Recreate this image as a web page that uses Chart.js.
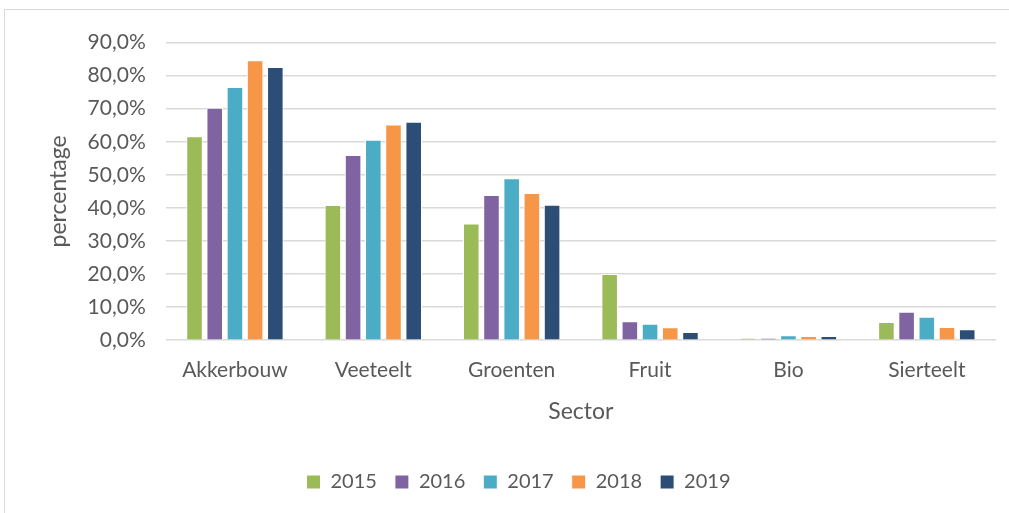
<!DOCTYPE html>
<html><head><meta charset="utf-8">
<script src="https://cdn.jsdelivr.net/npm/chart.js@4"></script>
<style>
html,body{margin:0;padding:0;background:#fff;overflow:hidden}
#box{position:absolute;left:4px;top:9px;width:1010px;height:510px;border:1px solid #D9D9D9;box-sizing:border-box}
#c{position:absolute;left:0;top:0}
</style></head><body>
<div id="box"><canvas id="c" width="1008" height="508"></canvas></div>
<script>
const categories = ['Akkerbouw','Veeteelt','Groenten','Fruit','Bio','Sierteelt'];
const years = ['2015','2016','2017','2018','2019'];
const v2015 = [61.7, 40.9, 35.3, 20.0, 0.7, 5.5];
const v2016 = [70.3, 56.0, 43.9, 5.7, 0.7, 8.6];
const v2017 = [76.6, 60.6, 49.0, 5.0, 1.5, 7.1];
const v2018 = [84.7, 65.2, 44.5, 3.9, 1.3, 4.0];
const v2019 = [82.6, 66.1, 41.0, 2.5, 1.3, 3.3];
const colors = ['#9BBB59','#8064A2','#4BACC6','#F79646','#2C4D75'];
const series = [v2015, v2016, v2017, v2018, v2019];
const FONT = 'Lato, "Open Sans", sans-serif';
new Chart(document.getElementById('c'), {
  type: 'bar',
  data: {
    labels: categories,
    datasets: series.map((s,i)=>({label: years[i], data: s, backgroundColor: colors[i], borderColor:'#ffffff', borderWidth:1,
      categoryPercentage:0.73, barPercentage:0.82}))
  },
  options: {
    responsive:false, animation:false,
    layout:{padding:{left:36,right:17,top:6,bottom:16}},
    plugins:{
      legend:{position:'bottom', labels:{boxWidth:14, boxHeight:14, padding:18, color:'#595959', font:{family:FONT,size:20}}},
      tooltip:{enabled:false}
    },
    scales:{
      x:{grid:{display:false}, border:{display:false},
        ticks:{color:'#595959', font:{family:FONT,size:21}, padding:9},
        title:{display:true, text:'Sector', color:'#595959', font:{family:FONT,size:23}, padding:{top:6,bottom:29}}},
      y:{min:0, max:90, grid:{color:'#D9D9D9', lineWidth:1.5, drawTicks:false}, border:{display:false},
        ticks:{stepSize:10, color:'#595959', font:{family:FONT,size:21}, padding:20,
          callback:v=>v.toFixed(1).replace('.',',')+'%'},
        title:{display:true, text:'percentage', color:'#595959', font:{family:FONT,size:23}, padding:{top:4,bottom:-5}}}
    }
  }
});
</script></body></html>
